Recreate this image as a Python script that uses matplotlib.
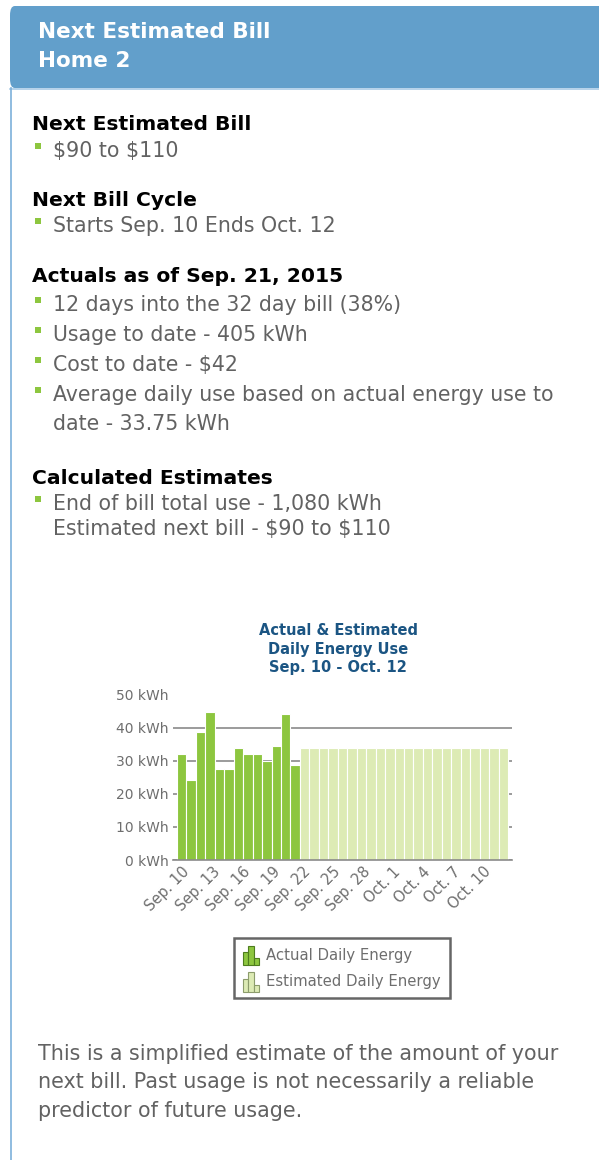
import matplotlib
matplotlib.use("Agg")
import matplotlib.pyplot as plt
import numpy as np
from matplotlib.patches import Rectangle, FancyBboxPatch
from matplotlib.legend_handler import HandlerBase

# data
actual_kwh = [32.0, 24.2, 38.8, 44.8, 27.4, 27.4, 33.7, 32.0, 32.0, 29.9, 34.5, 44.1, 28.8]
estimated_kwh = [33.75] * 22
cycle_days = 33
tick_days = [0, 3, 6, 9, 12, 15, 18, 21, 24, 27, 30]
tick_labels = ["Sep. 10", "Sep. 13", "Sep. 16", "Sep. 19", "Sep. 22", "Sep. 25",
               "Sep. 28", "Oct. 1", "Oct. 4", "Oct. 7", "Oct. 10"]
y_ticks = [0, 10, 20, 30, 40, 50]
y_labels = ["0 kWh", "10 kWh", "20 kWh", "30 kWh", "40 kWh", "50 kWh"]

W, H = 599, 1160
GREEN = "#8DC63F"
LIGHT = "#DDEBB5"
GRAY = "#626262"

fig = plt.figure(figsize=(W / 100, H / 100), dpi=100)
fig.patch.set_facecolor("white")


def fx(x):
    return x / W


def fy(y):
    return 1 - y / H


# header panel
fig.patches.append(FancyBboxPatch((fx(10), fy(88)), fx(620), fy(6) - fy(88),
                                  boxstyle="round,pad=0,rounding_size=0.008",
                                  transform=fig.transFigure, facecolor="#629FCB",
                                  edgecolor="none"))
fig.lines.append(plt.Line2D([fx(10), fx(599)], [fy(88.5), fy(88.5)], color="#A9CBE6",
                            lw=1.2, transform=fig.transFigure))
fig.lines.append(plt.Line2D([fx(10.5), fx(10.5)], [fy(88), fy(1160)], color="#7DB0DA",
                            lw=1.2, transform=fig.transFigure))
fig.text(fx(38), fy(32), "Next Estimated Bill", color="white", fontsize=15.5,
         fontweight="bold", va="center")
fig.text(fx(38), fy(61), "Home 2", color="white", fontsize=15.5,
         fontweight="bold", va="center")

# summary text
headings = [("Next Estimated Bill", 125), ("Next Bill Cycle", 201),
            ("Actuals as of Sep. 21, 2015", 276), ("Calculated Estimates", 478)]
for txt, y in headings:
    fig.text(fx(32), fy(y), txt, color="black", fontsize=14.6, fontweight="bold",
             va="center", parse_math=False)

lines = [("$90 to $110", 151, True), ("Starts Sep. 10 Ends Oct. 12", 226, True),
         ("12 days into the 32 day bill (38%)", 305, True),
         ("Usage to date - 405 kWh", 335, True), ("Cost to date - $42", 365, True),
         ("Average daily use based on actual energy use to", 395, True),
         ("date - 33.75 kWh", 424, False),
         ("End of bill total use - 1,080 kWh", 504, True),
         ("Estimated next bill - $90 to $110", 529, False)]
for txt, y, bullet in lines:
    fig.text(fx(53), fy(y), txt, color=GRAY, fontsize=14.8, va="center", parse_math=False)
    if bullet:
        fig.patches.append(Rectangle((fx(35), fy(y - 2)), fx(6), fy(0) - fy(6),
                                     transform=fig.transFigure, facecolor=GREEN,
                                     edgecolor="none"))

footer = ["This is a simplified estimate of the amount of your",
          "next bill. Past usage is not necessarily a reliable",
          "predictor of future usage."]
for i, txt in enumerate(footer):
    fig.text(fx(38), fy(1054 + i * 28.5), txt, color=GRAY, fontsize=14.9, va="center")

# chart
ax = fig.add_axes([fx(173), fy(860), fx(512) - fx(173), fy(694.5) - fy(860)])
n_act = len(actual_kwh)
n_all = n_act + len(estimated_kwh)
ax.bar(np.arange(n_act), actual_kwh, width=1.0, color=GREEN, edgecolor="white",
       linewidth=0.8, zorder=2)
ax.bar(np.arange(n_act, n_all), estimated_kwh, width=1.0, color=LIGHT, edgecolor="white",
       linewidth=0.8, zorder=2)
ax.set_xlim(-0.92, n_all - 1 + 0.92)
ax.set_ylim(0, 50)
ax.set_yticks(y_ticks)
ax.set_yticklabels(y_labels)
# label positions follow the 33 day bill cycle spread over the plotted bars
tick_pos = -0.5 + (np.array(tick_days) + 0.5) * n_all / cycle_days
ax.set_xticks(tick_pos)
ax.set_xticklabels(tick_labels, rotation=45, ha="right", va="top",
                   rotation_mode="anchor")
ax.tick_params(axis="both", length=0, colors="#6E6E6E")
ax.tick_params(axis="y", pad=3, labelsize=10)
ax.tick_params(axis="x", pad=3, labelsize=10.5)
ax.yaxis.grid(True, color="#8A8A8A", lw=1.2)
ax.get_ygridlines()[-1].set_visible(False)
ax.set_axisbelow(True)
for s in ["top", "right", "left"]:
    ax.spines[s].set_visible(False)
ax.spines["bottom"].set_color("#8A8A8A")
ax.spines["bottom"].set_linewidth(1.2)
ax.spines["bottom"].set_zorder(3)
ax.set_title("Actual & Estimated\nDaily Energy Use\nSep. 10 - Oct. 12", color="#1B5583",
             fontsize=10.5, fontweight="bold", pad=16, linespacing=1.3, x=0.487)


class MiniBars(HandlerBase):
    def __init__(self, face, edge):
        super().__init__()
        self.face = face
        self.edge = edge

    def create_artists(self, legend, orig_handle, xdescent, ydescent, width, height,
                       fontsize, trans):
        arts = []
        bw = width / 3.0
        for i, frac in enumerate([0.65, 1.0, 0.35]):
            r = Rectangle((-xdescent + i * bw, -ydescent - 2), bw, (height + 3) * frac,
                          facecolor=self.face, edgecolor=self.edge, lw=0.8,
                          transform=trans)
            arts.append(r)
        return arts


h_act = Rectangle((0, 0), 1, 1)
h_est = Rectangle((0, 1), 1, 1)
leg = fig.legend([h_act, h_est], ["Actual Daily Energy", "Estimated Daily Energy"],
                 handler_map={h_act: MiniBars(GREEN, "#4E7D1E"),
                              h_est: MiniBars(LIGHT, "#8C9C6C")},
                 loc="upper center", bbox_to_anchor=(fx(342), fy(938)),
                 fancybox=False, edgecolor="#666666", framealpha=1,
                 fontsize=10.7, handlelength=1.05, handleheight=1.2, handletextpad=0.5,
                 labelspacing=0.75, borderpad=0.6, borderaxespad=0)
leg.get_frame().set_linewidth(1.8)
for t in leg.get_texts():
    t.set_color("#6E6E6E")

plt.savefig("out.png", dpi=100)
